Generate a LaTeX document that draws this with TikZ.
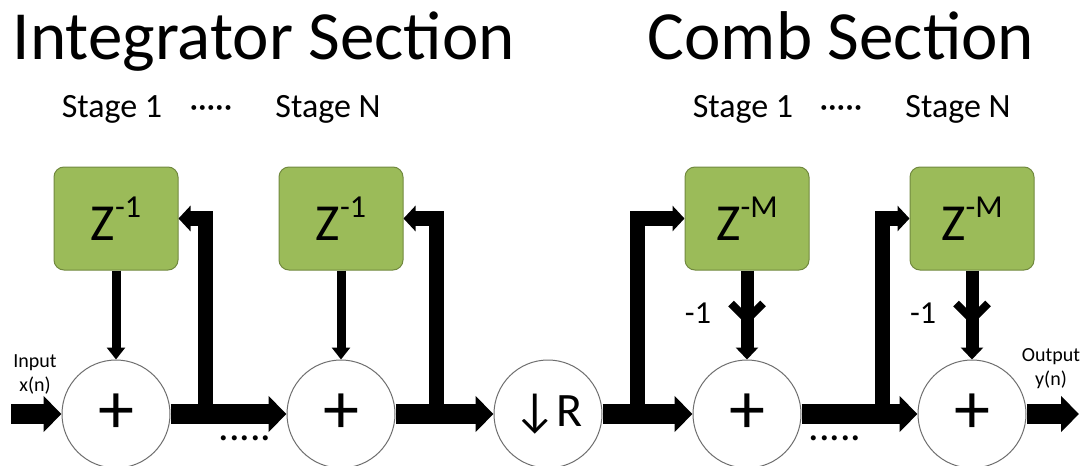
\documentclass[tikz,border=0pt]{standalone}
\usepackage{fontspec}
\setmainfont{Carlito}
\usetikzlibrary{arrows.meta,calc}
\definecolor{boxgreen}{HTML}{9BBB59}
\definecolor{boxedge}{HTML}{71893F}
\definecolor{ringgray}{HTML}{6E6E6E}
\newcommand\zlab[1]{{\fontsize{52}{52}\selectfont Z\raisebox{23pt}{\fontsize{32}{32}\selectfont #1}}}
\begin{document}
\begin{tikzpicture}[x=1pt,y=-1pt,line join=miter,
  adder/.style={circle,draw=ringgray,line width=1pt,fill=white,minimum size=108pt,inner sep=0pt,font=\fontsize{72}{72}\selectfont},
  delay/.style={rectangle,rounded corners=10pt,draw=boxedge,line width=1pt,fill=boxgreen,minimum width=124pt,minimum height=103pt,inner sep=0pt},
  mainflow/.style={line width=20pt,-{Triangle[width=35pt,length=18pt]}},
  fbflow/.style={line width=15pt,-{Triangle[width=25pt,length=12pt]}},
  vflow/.style={line width=9pt,-{Triangle[width=18pt,length=12pt]}},
  cflow/.style={line width=13pt,-{Triangle[width=22pt,length=12pt]}},
  title/.style={font=\fontsize{69}{69}\selectfont,inner sep=0pt,anchor=base},
  stagelbl/.style={font=\fontsize{34}{34}\selectfont,inner sep=0pt,anchor=base},
  iolbl/.style={font=\fontsize{20}{24}\selectfont,align=center,inner sep=0pt},
  gainlbl/.style={font=\fontsize{32}{32}\selectfont,inner sep=0pt},
  ellip/.style={font=\fontsize{42}{42}\selectfont,inner sep=0pt,anchor=base}
]
\useasboundingbox (0,0) rectangle (1082,466);

% titles
\node[title] (tint) at (264,59) {Integrator Section};
\node[title] (tcomb) at (841,59) {Comb Section};
\node[stagelbl] (s1) at (112,117) {Stage 1};
\node[stagelbl] (sd1) at (211,117) {·····};
\node[stagelbl] (s2) at (328,117) {Stage N};
\node[stagelbl] (s3) at (743,117) {Stage 1};
\node[stagelbl] (sd2) at (841,117) {·····};
\node[stagelbl] (s4) at (958,117) {Stage N};

% blocks
\node[delay] (b1) at (116,218.5) {\zlab{-1}};
\node[delay] (b2) at (341,218.5) {\zlab{-1}};
\node[delay] (b3) at (747,218.5) {\zlab{-M}};
\node[delay] (b4) at (972,218.5) {\zlab{-M}};

\node[adder] (c1) at (116,414) {+};
\node[adder] (c2) at (341,414) {+};
\node[adder] (r)  at (548,414) {\fontsize{48}{48}\selectfont ↓R};
\node[adder] (c3) at (747,414) {+};
\node[adder] (c4) at (972,414) {+};

% io
\coordinate (in) at (11,414);
\coordinate (out) at (1079,414);
\node[iolbl] (inlbl) at (35,374) {Input\\x(n)};
\node[iolbl] (outlbl) at (1051,369) {Output\\y(n)};

% junctions
\coordinate (j1) at (205,414);
\coordinate (j2) at (436,414);
\coordinate (j3) at (637,414);
\coordinate (j4) at (882,414);

% main flow
\draw[mainflow] (in) -- (c1.west);
\draw[mainflow] (c1.east) -- (c2.west);
\draw[mainflow] (c2.east) -- (r.west);
\draw[mainflow] (r.east) -- (c3.west);
\draw[mainflow] (c3.east) -- (c4.west);
\draw[mainflow] (c4.east) -- (out);

% integrator feedback
\draw[fbflow] (j1) |- (b1.east);
\draw[fbflow] (j2) |- (b2.east);
\draw[vflow] (b1.south) -- (c1.north);
\draw[vflow] (b2.south) -- (c2.north);

% comb feedforward
\draw[fbflow] (j3) |- (b3.west);
\draw[fbflow] (j4) |- (b4.west);
\draw[cflow] (b3.south) -- (c3.north);
\draw[cflow] (b4.south) -- (c4.north);
\draw[line width=8pt] ($(b3.south)+(-16,33)$) -- ($(b3.south)+(0,49)$) -- ($(b3.south)+(16,33)$);
\draw[line width=8pt] ($(b4.south)+(-16,33)$) -- ($(b4.south)+(0,49)$) -- ($(b4.south)+(16,33)$);
\node[gainlbl] (g1) at (698,313) {-1};
\node[gainlbl] (g2) at (923,313) {-1};

% ellipses under main line
\node[ellip] (e1) at (245,440) {.....};
\node[ellip] (e2) at (835,440) {.....};
\end{tikzpicture}
\end{document}
